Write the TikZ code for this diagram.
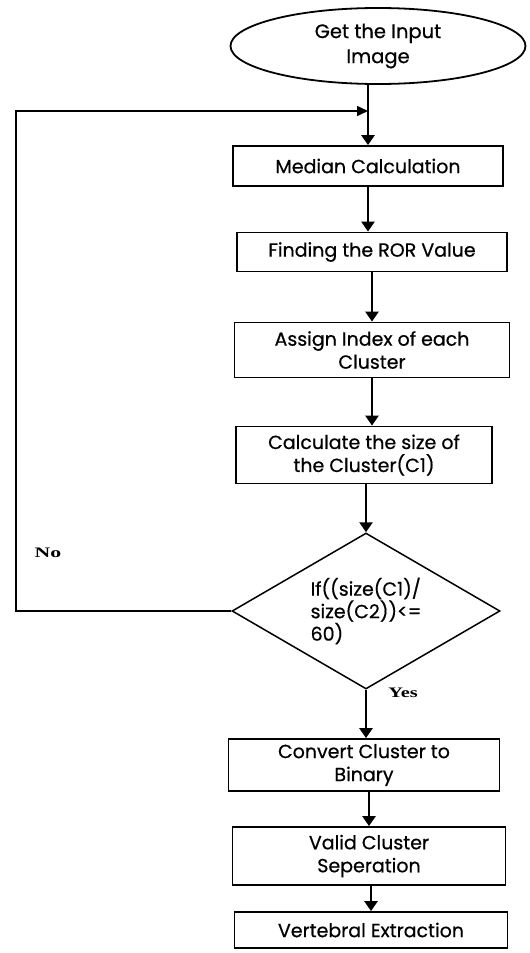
\documentclass[tikz,border=0pt]{standalone}
\usepackage{fontspec}
\setmainfont{Poppins}[FakeBold=0.6]
\newfontfamily\serifbold{Liberation Serif}
\usetikzlibrary{shapes.geometric,arrows.meta}
\usetikzlibrary{positioning}

\begin{document}
\begin{tikzpicture}[x=1pt,y=-1pt]
  \tikzstyle{arrow} = [line width=2.6pt,-{Triangle[length=10pt,width=13pt]}]
  \tikzstyle{backline} = [line width=1.6pt,-{Triangle[length=11pt,width=10pt]}]
  \tikzstyle{process} = [draw,line width=1.8pt,align=center,inner sep=2pt,font=\fontsize{19}{23}\selectfont]
  \tikzstyle{decision} = [draw,diamond,aspect=1.72,line width=1.5pt,align=left,inner sep=0pt,font=\fontsize{19}{22.5}\selectfont]
  \tikzstyle{answer} = [font=\serifbold\bfseries\fontsize{14.5}{16}\selectfont,inner sep=0pt]
  \useasboundingbox (0,0) rectangle (530,953);
  % Start of the flow
  \node[draw,ellipse,line width=1.8pt,minimum width=295pt,minimum height=76pt,align=center,
        font=\fontsize{19.5}{25}\selectfont] (input) at (378,46) {Get the Input\\Image};
  % Steps
  \node[process,minimum width=270pt,minimum height=40pt] (median) at (368,166) {Median Calculation};
  \node[process,minimum width=270pt,minimum height=39pt] (ror) at (372,252) {Finding the ROR Value};
  \node[process,minimum width=275pt,minimum height=55pt] (index) at (372,350) {Assign Index of each\\Cluster};
  \node[process,minimum width=256pt,minimum height=57pt] (size) at (364,455) {Calculate the size of\\the Cluster(C1)};
  % Test on the ratio
  \node[decision,minimum width=268pt,minimum height=156pt] (test) at (366,611) {If((size(C1)/\\size(C2))<=\\60)};
  \node[process,minimum width=271pt,minimum height=52pt] (binary) at (364,765) {Convert Cluster to\\Binary};
  \node[process,minimum width=273pt,minimum height=58pt] (valid) at (369,856) {Valid Cluster\\Seperation};
  \node[process,minimum width=273pt,minimum height=36pt] (vertebral) at (371,930) {Vertebral Extraction};
  % Labels of the two branches
  \node[answer] (no) at (48,553) {\scalebox{1.5}[1]{No}};
  \node[answer] (yes) at (403,693) {\scalebox{1.4}[1]{Yes}};
  % Loop back point
  \coordinate (join) at (368,111);
  % Connectors
  \draw[arrow] (input.south -| median.north) -- (median.north);
  \draw[arrow] (median.south) -- (median.south |- ror.north);
  \draw[arrow] (ror.south) -- (index.north);
  \draw[arrow] (index.south) -- (index.south |- size.north);
  \draw[arrow] (size.south -| test.north) -- (test.north);
  \draw[arrow] (test.south) -- (test.south |- binary.north);
  \draw[arrow] (binary.south -| valid.north) -- (valid.north);
  \draw[arrow] (valid.south -| vertebral.north) -- (vertebral.north);
  \draw[backline] (test.west) -- (16,611) |- (join);
\end{tikzpicture}
\end{document}
